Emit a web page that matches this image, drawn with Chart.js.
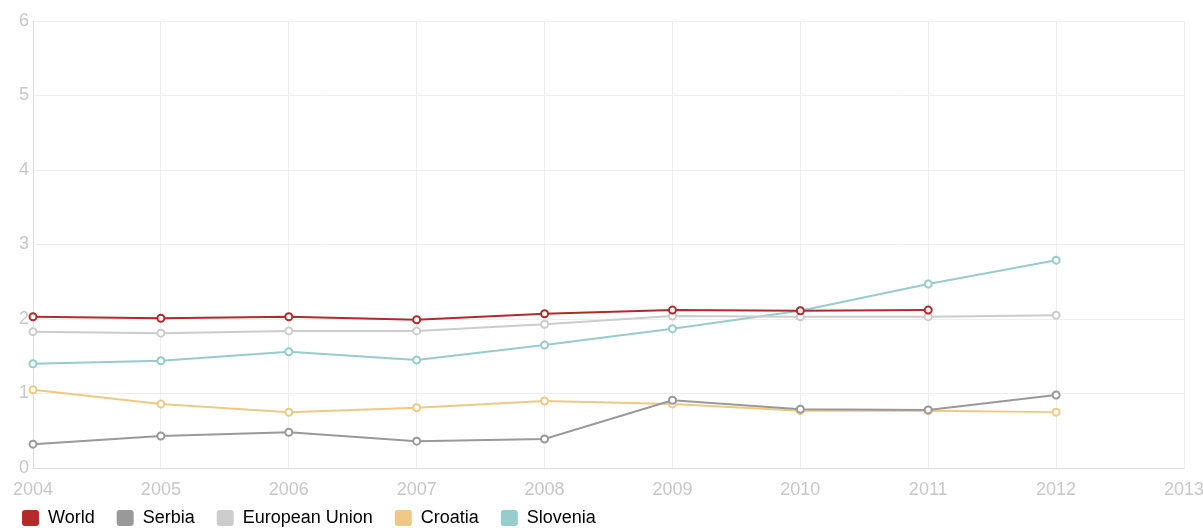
<!DOCTYPE html>
<html>
<head>
<meta charset="utf-8">
<script src="https://cdn.jsdelivr.net/npm/chart.js@4/dist/chart.umd.min.js"></script>
<style>
  html, body { margin: 0; padding: 0; background: #fff; overflow: hidden; }
  #wrap { position: relative; width: 1203px; height: 550px; }
</style>
</head>
<body>
<div id="wrap"><canvas id="chart"></canvas></div>
<script>
// years on the x axis (2013 has no data, only a tick)
const years = ['2004', '2005', '2006', '2007', '2008', '2009', '2010', '2011', '2012', '2013'];

const world    = [2.03, 2.01, 2.03, 1.99, 2.07, 2.12, 2.11, 2.12, null, null];
const serbia   = [0.32, 0.43, 0.48, 0.36, 0.39, 0.91, 0.79, 0.78, 0.98, null];
const eu       = [1.83, 1.81, 1.84, 1.84, 1.93, 2.04, 2.03, 2.03, 2.05, null];
const croatia  = [1.05, 0.86, 0.75, 0.81, 0.90, 0.86, 0.77, 0.77, 0.75, null];
const slovenia = [1.40, 1.44, 1.56, 1.45, 1.65, 1.87, 2.11, 2.47, 2.79, null];

const FONT = 'Liberation Sans, Arial, sans-serif';

function series(label, data, color)
{
    return {
        label: label,
        data: data,
        borderColor: color,
        backgroundColor: color,
        borderWidth: 2,
        pointRadius: 3.5,
        pointBorderWidth: 2,
        pointBackgroundColor: '#fff',
        pointBorderColor: color,
        fill: false,
        tension: 0
    };
}

const datasets = [
    series('World', world, '#b22a2a'),
    series('Serbia', serbia, '#999999'),
    series('European Union', eu, '#cccccc'),
    series('Croatia', croatia, '#efc983'),
    series('Slovenia', slovenia, '#96cdcc')
];
datasets.forEach((d, i) => d.order = i);

// pull the legend up a little, closer to the axis labels
const liftLegend = {
    id: 'liftLegend',
    afterLayout(chart) {
        chart.legend.top -= 13;
        chart.legend.bottom -= 13;
    }
};

const ctx = document.getElementById('chart').getContext('2d');
new Chart(ctx, {
    type: 'line',
    data: { labels: years, datasets: datasets },
    plugins: [liftLegend],
    options: {
        responsive: true,
        maintainAspectRatio: false,
        animation: false,
        layout: { padding: { top: 21, left: 0, right: 0, bottom: 0 } },
        plugins: {
            legend: {
                position: 'bottom',
                align: 'start',
                labels: {
                    boxWidth: 17,
                    boxHeight: 16,
                    padding: 22,
                    color: '#5a5a5a',
                    font: { family: FONT, size: 18 },
                    generateLabels: (chart) => chart.data.datasets.map((d, i) => ({
                        text: d.label,
                        fillStyle: d.borderColor,
                        strokeStyle: d.borderColor,
                        lineWidth: 0,
                        borderRadius: 3,
                        datasetIndex: i
                    })),
                    useBorderRadius: true
                }
            },
            tooltip: { enabled: false }
        },
        scales: {
            x: {
                offset: false,
                grid: { color: '#eeeeee', drawTicks: false },
                border: { color: '#dddddd' },
                ticks: {
                    color: '#c8c8c8',
                    padding: 11,
                    maxRotation: 0,
                    autoSkip: false,
                    font: { family: FONT, size: 18 }
                },
                afterFit: (s) => {
                    s.height = 32;
                    s.paddingLeft = 0;
                    s.paddingRight = 19;
                }
            },
            y: {
                min: 0,
                max: 6,
                grid: { color: '#eeeeee', drawTicks: false },
                border: { color: '#dddddd' },
                ticks: {
                    stepSize: 1,
                    color: '#c8c8c8',
                    padding: 4,
                    font: { family: FONT, size: 18 }
                },
                afterFit: (s) => { s.width = 33; }
            }
        }
    }
});
</script>
</body>
</html>
